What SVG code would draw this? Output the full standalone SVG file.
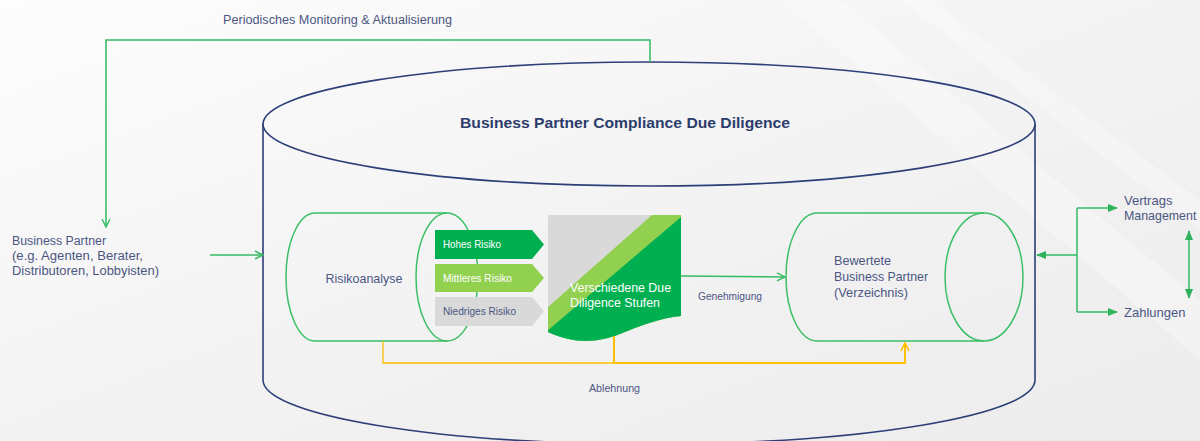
<svg xmlns="http://www.w3.org/2000/svg" width="1200" height="441" viewBox="0 0 1200 441">
<style>
.t{font-family:"Liberation Sans",Arial,sans-serif;fill:#4c5683;}
.g{fill:none;stroke:#35bb62;stroke-width:1.5;}
.y{fill:none;stroke:#ffc000;}
.cyl{fill:none;stroke:#2d3f78;stroke-width:1.6;}
.inner{fill:none;stroke:#3cbf66;stroke-width:1.5;}
</style>
<defs>
<linearGradient id="bg" x1="0" y1="0" x2="1" y2="1">
<stop offset="0" stop-color="#fdfdfd"/>
<stop offset="0.5" stop-color="#f3f3f3"/>
<stop offset="1" stop-color="#ececec"/>
</linearGradient>
<marker id="og" viewBox="0 0 10 10" refX="9" refY="5" markerWidth="10" markerHeight="10" markerUnits="userSpaceOnUse" orient="auto">
<path d="M1,1 L9,5 L1,9" fill="none" stroke="#35bb62" stroke-width="1.4"/>
</marker>
<marker id="oy" viewBox="0 0 10 10" refX="9" refY="5" markerWidth="10" markerHeight="10" markerUnits="userSpaceOnUse" orient="auto">
<path d="M1,1 L9,5 L1,9" fill="none" stroke="#ffc000" stroke-width="1.6"/>
</marker>
<marker id="fg" viewBox="0 0 10 10" refX="9" refY="5" markerWidth="10" markerHeight="10" markerUnits="userSpaceOnUse" orient="auto-start-reverse">
<path d="M0,1 L10,5 L0,9 Z" fill="#2fb35a"/>
</marker>
<clipPath id="docclip">
<path d="M548 215 L681 215 L681 316 C660 318 640 326 620 334 C600 342 575 345 548 332 Z"/>
</clipPath>
</defs>
<rect width="1200" height="441" fill="url(#bg)"/>
<g opacity="0.3" fill="#ffffff">
<path d="M780 0 L840 0 L1200 300 L1200 360 Z"/>
<path d="M900 0 L930 0 L1200 200 L1200 230 Z"/>
</g>

<g id="main-cylinder">
<path class="cyl" d="M263 124 V380 A386 64 0 0 0 1035 380 V124"/>
<ellipse class="cyl" cx="649" cy="124" rx="386" ry="62"/>
<text class="t" x="625" y="128" font-size="15" font-weight="bold" text-anchor="middle" style="fill:#2c3c6b" textLength="330" lengthAdjust="spacingAndGlyphs">Business Partner Compliance Due Diligence</text>
</g>

<g id="monitoring-label">
<text class="t" x="223" y="24" font-size="12" textLength="229" lengthAdjust="spacingAndGlyphs">Periodisches Monitoring &amp; Aktualisierung</text>
</g>

<g id="business-partner">
<text class="t" x="12" y="245" font-size="12.5" textLength="94" lengthAdjust="spacingAndGlyphs">Business Partner</text>
<text class="t" x="12" y="260" font-size="12.5" textLength="131" lengthAdjust="spacingAndGlyphs">(e.g. Agenten, Berater,</text>
<text class="t" x="12" y="275" font-size="12.5" textLength="147" lengthAdjust="spacingAndGlyphs">Distributoren, Lobbyisten)</text>
</g>

<g id="risikoanalyse">
<path class="inner" d="M447 213 L315 213 A29 64 0 0 0 315 341 L447 341"/>
<ellipse class="inner" cx="447" cy="277" rx="31" ry="64"/>
<text class="t" x="364" y="283" font-size="13.5" text-anchor="middle" textLength="77" lengthAdjust="spacingAndGlyphs">Risikoanalyse</text>
</g>

<g id="hohes-risiko">
<path d="M435 230 L532 230 L544 244.5 L532 259 L435 259 Z" fill="#00b050"/>
<text class="t" x="443" y="248" font-size="10.5" style="fill:#ffffff" textLength="58" lengthAdjust="spacingAndGlyphs">Hohes Risiko</text>
</g>
<g id="mittleres-risiko">
<path d="M435 264 L532 264 L544 278 L532 292 L435 292 Z" fill="#92d050"/>
<text class="t" x="443" y="282" font-size="10.5" style="fill:#ffffff" textLength="69" lengthAdjust="spacingAndGlyphs">Mittleres Risiko</text>
</g>
<g id="niedriges-risiko">
<path d="M435 297 L532 297 L544 311.5 L532 326 L435 326 Z" fill="#d9d9d9"/>
<text class="t" x="443" y="315" font-size="10.5" textLength="73" lengthAdjust="spacingAndGlyphs">Niedriges Risiko</text>
</g>

<g id="due-diligence-stufen">
<g clip-path="url(#docclip)">
<rect x="548" y="215" width="133" height="135" fill="#d9d9d9"/>
<path d="M652 215 L690 215 L690 360 L540 360 L540 314 Z" fill="#92d050"/>
<path d="M681 217 L690 217 L690 360 L540 360 L540 337 Z" fill="#00b050"/>
</g>
<text class="t" x="570" y="292" font-size="13.5" style="fill:#ffffff" textLength="101" lengthAdjust="spacingAndGlyphs">Verschiedene Due</text>
<text class="t" x="570" y="307" font-size="13.5" style="fill:#ffffff" textLength="90" lengthAdjust="spacingAndGlyphs">Diligence Stufen</text>
</g>

<g id="bewertete-partner">
<path class="inner" d="M984 213 L817 213 A31 64 0 0 0 817 341 L984 341"/>
<ellipse class="inner" cx="984" cy="277" rx="39" ry="64"/>
<text class="t" x="834" y="265" font-size="13.5" textLength="57" lengthAdjust="spacingAndGlyphs">Bewertete</text>
<text class="t" x="834" y="281" font-size="13.5" textLength="94" lengthAdjust="spacingAndGlyphs">Business Partner</text>
<text class="t" x="834" y="297" font-size="13.5" textLength="74" lengthAdjust="spacingAndGlyphs">(Verzeichnis)</text>
</g>

<g id="vertrags-management">
<text class="t" x="1124" y="205" font-size="13">Vertrags</text>
<text class="t" x="1124" y="220" font-size="12.4">Management</text>
</g>
<g id="zahlungen">
<text class="t" x="1124" y="317" font-size="13">Zahlungen</text>
</g>

<g id="connectors">
<path class="g" d="M650 62 V40 H106 V227" marker-end="url(#og)"/>
<path class="g" d="M210 255 H263" marker-end="url(#og)"/>
<path class="g" d="M681 276 L785 277" marker-end="url(#og)"/>
<path class="g" d="M1077 255 H1037" marker-end="url(#fg)"/>
<path class="g" d="M1077 208 V312"/>
<path class="g" d="M1077 208 H1117" marker-end="url(#fg)"/>
<path class="g" d="M1077 312 H1117" marker-end="url(#fg)"/>
<path class="g" d="M1189 231 V298" marker-start="url(#fg)" marker-end="url(#fg)"/>
<path class="y" stroke-width="1.3" stroke="#ffcb30" d="M383 341 V363 H614"/>
<path class="y" stroke-width="2" d="M614 336 V363 H905 V343" marker-end="url(#oy)"/>
<text class="t" x="698" y="300" font-size="10" textLength="64" lengthAdjust="spacingAndGlyphs">Genehmigung</text>
<text class="t" x="589" y="392" font-size="10" textLength="51" lengthAdjust="spacingAndGlyphs">Ablehnung</text>
</g>
</svg>
